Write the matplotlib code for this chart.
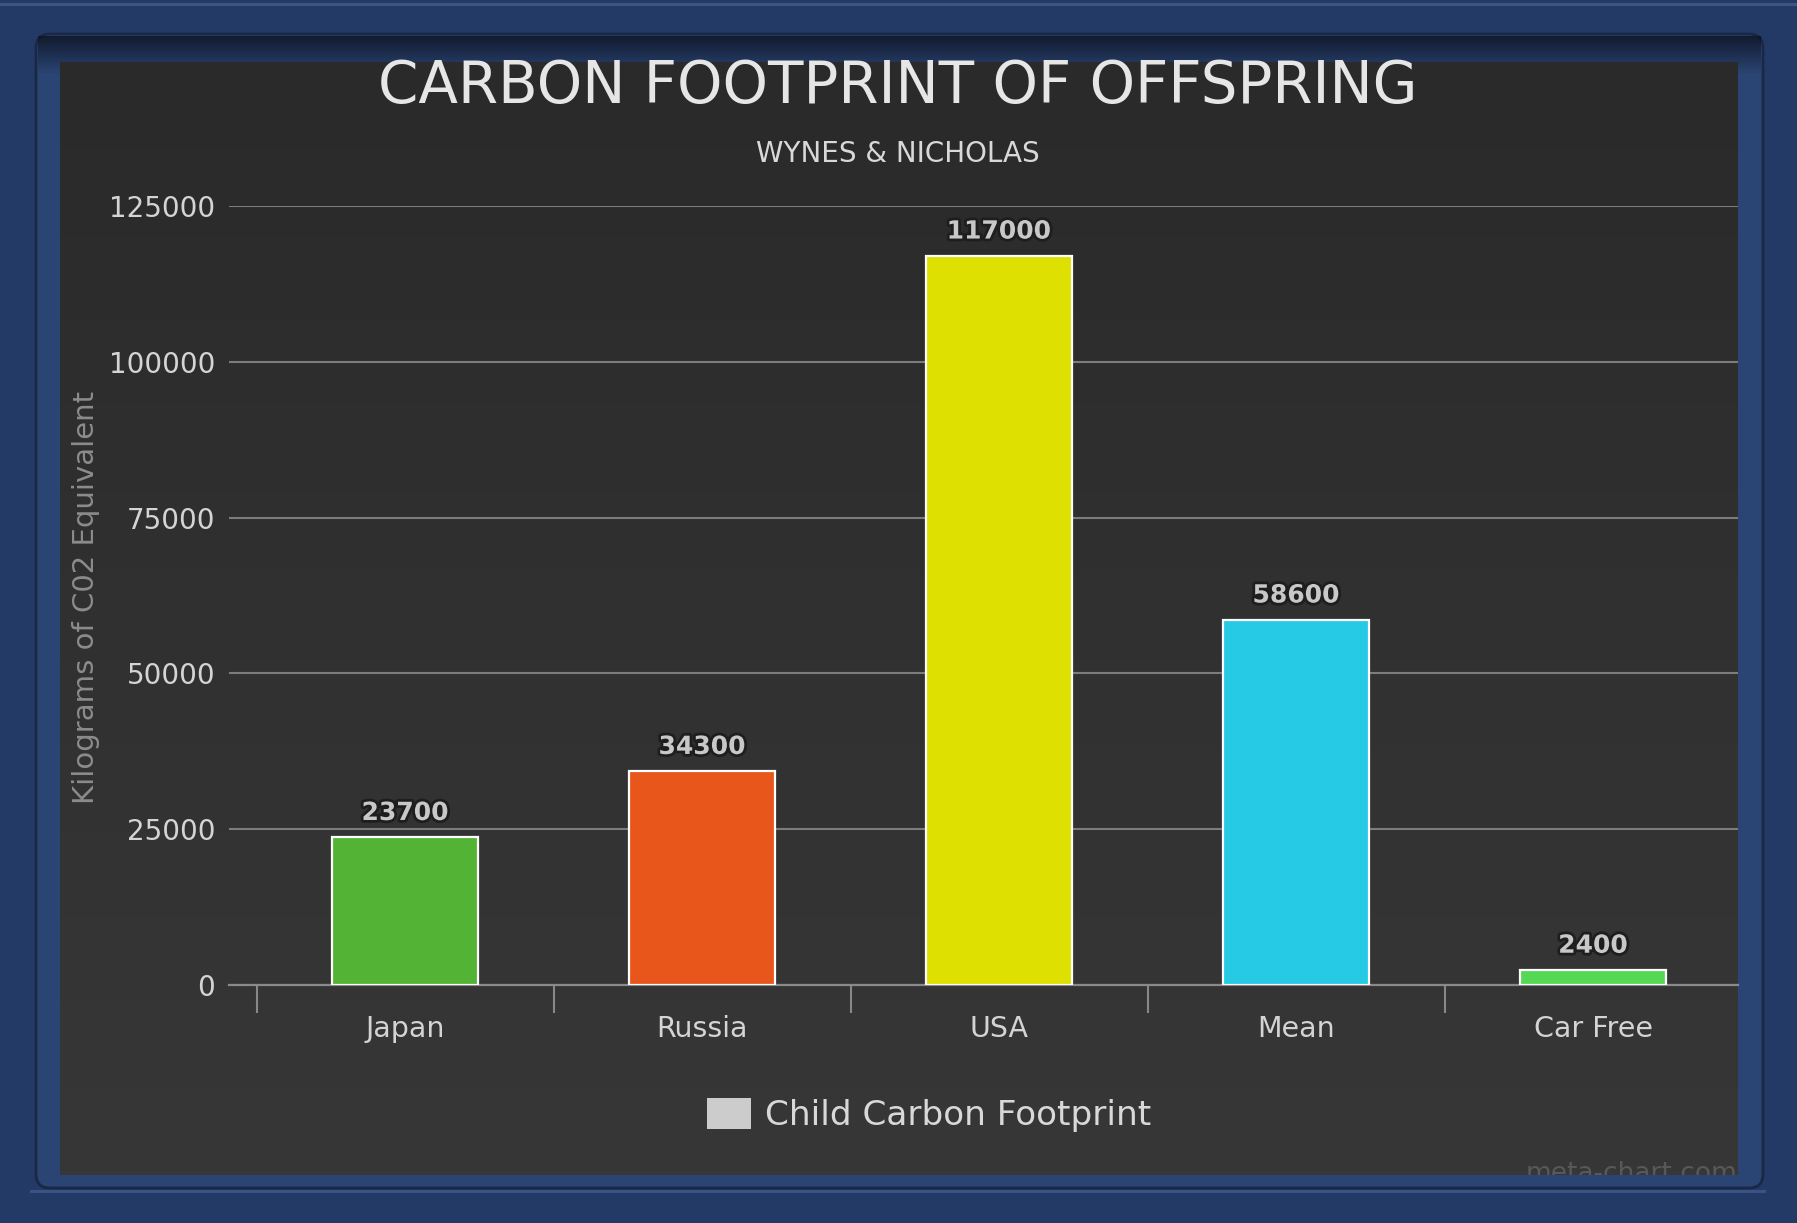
import numpy as np
import matplotlib.pyplot as plt
import matplotlib.patheffects as pe
from matplotlib.patches import Rectangle, FancyBboxPatch, Patch
from matplotlib.transforms import Bbox, TransformedBbox

# Chart data
categories = ['Japan', 'Russia', 'USA', 'Mean', 'Car Free']
footprint = [23700, 34300, 117000, 58600, 2400]
bar_colors = ['#52b334', '#e9561c', '#dde000', '#26cae4', '#55d955']
y_ticks = [0, 25000, 50000, 75000, 100000, 125000]

W, H = 1797, 1223
fig = plt.figure(figsize=(W / 100, H / 100), dpi=100, facecolor='#233a66')

# background layer in pixel coordinates (frame + dark panel)
bg = fig.add_axes([0, 0, 1, 1], zorder=0)
bg.set_xlim(0, W)
bg.set_ylim(H, 0)
bg.axis('off')

bg.add_patch(Rectangle((0, 3), W, 3, color='#3c5585', lw=0))
bg.add_patch(FancyBboxPatch((36, 34), 1727, 1154, boxstyle='round,pad=0,rounding_size=14',
                            facecolor='#2a4574', edgecolor='#1a2845', lw=2))
# shadow at the top of the inset
shade = np.linspace(0.85, 0, 40).reshape(-1, 1)
bg.imshow(np.dstack([np.full_like(shade, 0.06), np.full_like(shade, 0.08),
                     np.full_like(shade, 0.14), shade]),
          extent=(38, 1761, 75, 36), aspect='auto', zorder=2)
bg.add_patch(Rectangle((30, 1190), 1736, 3, color='#4a6598', lw=0, alpha=0.6))

# dark panel with a slight vertical gradient
panel_x0, panel_y0, panel_x1, panel_y1 = 60, 62, 1738, 1175
grad = np.linspace(0, 1, 256).reshape(-1, 1)
c_top = np.array([0x2a, 0x2a, 0x2a]) / 255
c_bot = np.array([0x37, 0x37, 0x38]) / 255
img = c_top + (c_bot - c_top) * grad[..., None]
img = np.repeat(img, 2, axis=1)
bg.imshow(img, extent=(panel_x0, panel_x1, panel_y1, panel_y0), aspect='auto', zorder=3)

# watermark, cut off by the bottom of the panel
wm = bg.text(1738, 1181, 'meta-chart.com', ha='right', va='baseline', fontsize=19,
             color='#585858', zorder=4)
wm.set_clip_box(TransformedBbox(Bbox.from_extents(panel_x0, panel_y0, panel_x1, panel_y1),
                                bg.transData))
wm.set_clip_on(True)

# titles
fig.text(898 / W, 1 - 86 / H, 'CARBON FOOTPRINT OF OFFSPRING', ha='center', va='center',
         fontsize=41.7, color='#e6e6e6')
fig.text(898 / W, 1 - 154 / H, 'WYNES & NICHOLAS', ha='center', va='center',
         fontsize=20, color='#d8d8d8')
fig.text(86 / W, 1 - 597 / H, 'Kilograms of C02 Equivalent', rotation=90,
         ha='center', va='center', fontsize=21, color='#8c8c8c')

# main plot
left, right, top, bottom = 229, 1738, 206, 985
ax = fig.add_axes([left / W, 1 - bottom / H, (right - left) / W, (bottom - top) / H], zorder=2)
ax.set_facecolor('none')

x = np.arange(len(categories))
ax.bar(x, footprint, width=0.49, color=bar_colors, edgecolor='white', linewidth=1.6, zorder=3)

for xi, v in zip(x, footprint):
    ax.annotate(str(v), (xi, v), xytext=(0, 17.5), textcoords='offset points',
                ha='center', va='center', fontsize=18, fontweight='bold', color='#c8c8c8',
                path_effects=[pe.withStroke(linewidth=4, foreground='#1e1e1e')],
                annotation_clip=False, zorder=4)

ax.set_xlim(-0.593, 4.488)
ax.set_ylim(0, 125000)
ax.set_yticks(y_ticks)
ax.set_yticklabels([str(t) for t in y_ticks])
ax.yaxis.grid(True, color='#7c7c7c', linewidth=1.5, zorder=1)
ax.set_axisbelow(True)
ax.tick_params(axis='y', length=0, pad=10, labelsize=20, labelcolor='#d4d4d4')

ax.set_xticks(x)
ax.set_xticklabels(categories)
ax.set_xticks(np.arange(-0.5, 4.0, 1.0), minor=True)
ax.tick_params(axis='x', which='major', length=0, pad=21.5, labelsize=20.5, labelcolor='#d4d4d4')
ax.tick_params(axis='x', which='minor', length=20, width=1.5, color='#888888')

for s in ['top', 'right', 'left']:
    ax.spines[s].set_visible(False)
ax.spines['bottom'].set_color('#8a8a8a')
ax.spines['bottom'].set_linewidth(1.6)

# legend
fig.legend(handles=[Patch(facecolor='#cccccc', edgecolor='none', label='Child Carbon Footprint')],
           loc='center', bbox_to_anchor=(929 / W, 1 - 1115 / H), frameon=False,
           fontsize=24.7, labelcolor='#d8d8d8', handlelength=1.28, handleheight=1.02,
           handletextpad=0.4)

fig.savefig('out.png', dpi=100, facecolor=fig.get_facecolor())
